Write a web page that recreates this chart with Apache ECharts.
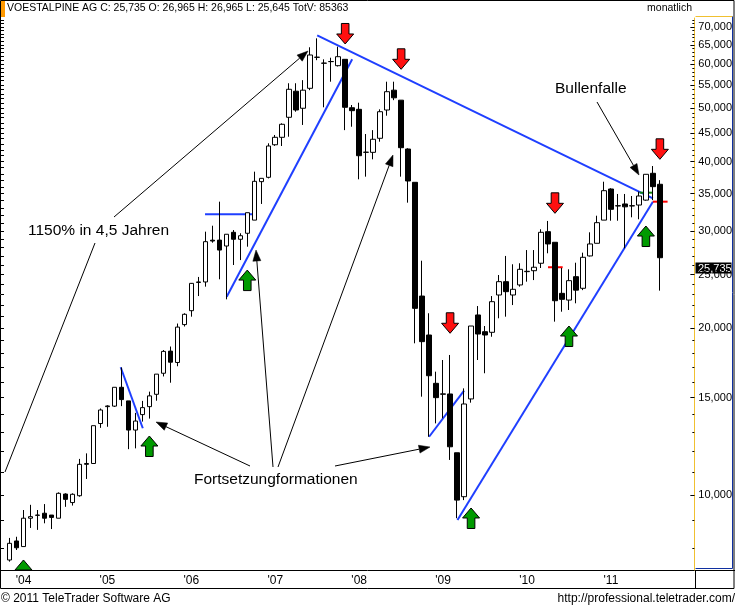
<!DOCTYPE html>
<html><head><meta charset="utf-8">
<script src="https://cdn.jsdelivr.net/npm/echarts@6/dist/echarts.min.js"></script>
<style>html,body{margin:0;padding:0;background:#fff}#c{width:735px;height:608px}</style>
</head><body><div id="c"></div>
<script>
const categories = [
'2003-11','2003-12',
'2004-01','2004-02','2004-03','2004-04','2004-05','2004-06','2004-07','2004-08','2004-09','2004-10','2004-11','2004-12',
'2005-01','2005-02','2005-03','2005-04','2005-05','2005-06','2005-07','2005-08','2005-09','2005-10','2005-11','2005-12',
'2006-01','2006-02','2006-03','2006-04','2006-05','2006-06','2006-07','2006-08','2006-09','2006-10','2006-11','2006-12',
'2007-01','2007-02','2007-03','2007-04','2007-05','2007-06','2007-07','2007-08','2007-09','2007-10','2007-11','2007-12',
'2008-01','2008-02','2008-03','2008-04','2008-05','2008-06','2008-07','2008-08','2008-09','2008-10','2008-11','2008-12',
'2009-01','2009-02','2009-03','2009-04','2009-05','2009-06','2009-07','2009-08','2009-09','2009-10','2009-11','2009-12',
'2010-01','2010-02','2010-03','2010-04','2010-05','2010-06','2010-07','2010-08','2010-09','2010-10','2010-11','2010-12',
'2011-01','2011-02','2011-03','2011-04','2011-05','2011-06','2011-07','2011-08','2011-09','2011-10','2011-11','2011-12'
];
const openV = [7632,8260,8070,9080,9200,9270,9200,9080,10040,9690,9970,11360,11400,13460,14440,14470,15650,14790,13100,13970,14440,15200,16590,18190,17350,20310,21520,24200,24250,28850,28860,28160,29810,28960,29690,31360,36800,37470,42900,44250,48090,53600,49930,54250,61700,60200,60610,59600,61200,50040,49710,41570,41570,44070,49570,53830,51640,42150,36700,22870,19450,15910,15200,15220,11920,9930,14910,21140,19720,19670,22970,24280,22970,23950,25310,25410,26210,29890,28600,23130,22490,24790,23620,27020,28480,31360,35690,33260,33540,33260,33390,34080,38100,36400];
const highV = [8365,8406,9395,9600,9395,9630,9200,10110,10070,10070,11620,11890,13340,14330,14520,15650,16990,14790,14070,14790,15370,16530,18270,18540,20400,21290,24140,24760,29890,30640,33860,29570,30090,29690,32340,38360,37310,43160,44680,46900,55400,55400,56120,64340,66780,61200,61610,64500,61200,50610,51100,44860,45590,49710,55760,55760,51640,42280,36700,26490,21290,16700,17530,17900,11920,15580,20190,21940,20190,22870,24960,27020,26100,26210,27690,27690,30190,31250,28600,25700,25560,26270,27390,29810,31940,36790,35800,34960,34960,34670,35310,37940,39270,37030];
const lowV = [7580,7956,8070,8720,8650,8890,8680,9080,9520,9570,9930,10690,11400,13220,13280,14420,14470,12100,12140,13570,13740,14800,16370,15950,17080,20150,20990,22870,23780,28550,24520,22560,26020,26560,28080,31360,33540,37300,42700,42680,44360,49220,46580,53830,60980,50130,55760,59400,45590,46240,37160,37570,40380,43450,48410,51640,37570,33720,18790,15050,12740,13470,13760,11570,9080,9790,14680,17530,16590,19310,20850,20990,22030,23780,24280,24440,25700,27320,20560,21430,21580,22190,23440,26960,28480,31360,31280,31280,27890,31730,31470,34000,34080,23390];
const closeV = [8180,8030,9080,9140,9190,9080,9110,10070,9820,10030,11360,11400,13340,14240,14480,15650,14870,13100,13600,14380,15100,16530,18170,17370,20100,21200,24110,24250,28670,28750,27690,29570,28960,29390,32340,36850,37310,42680,44250,46710,54030,49570,53830,62310,61750,60250,60650,61870,50130,49430,40990,41600,43890,49220,53490,52150,42380,36900,21730,18920,16420,14990,15230,12220,9790,14600,20190,19530,19450,22340,24280,23290,23520,25560,25350,25780,29810,28400,22430,22560,24380,23440,26870,28400,31030,35440,32800,33300,33140,33300,34670,37940,36040,26820];
const yTickLabels = [10000,15000,20000,25000,30000,35000,40000,45000,50000,55000,60000,65000,70000];
const lastPrice = 25735;
const headerText = 'VOESTALPINE AG C: 25,735 O: 26,965 H: 26,965 L: 25,645 TotV: 85363';

// annotations in data space: [categoryIndex, price]
const trendLines = [
  [[44, 67620], [92, 34340]],
  [[31.06, 22810], [49, 61200]],
  [[27.96, 32130], [35.1, 32130]],
  [[15.9, 17010], [19.06, 13200]],
  [[60, 12740], [65, 15430]],
  [[64.06, 9013], [92, 33860]]
];
const dashes = [
  {a:[90.1, 35150], b:[92, 35150], color:'#118811'},
  {a:[92, 33860], b:[94.1, 33860], color:'#ff0000'},
  {a:[77, 25780], b:[79.1, 25780], color:'#ff0000'}
];
const downArrows = [[48, 65230],[56, 58710],[78, 32260],[63, 19590],[93, 40380]];
const upArrows = [[2, 7632],[20, 12780],[34, 25477],[80, 20190],[66, 9474],[91, 30600]];

const FONT = '"Liberation Sans", Arial, sans-serif';
const L = v => Math.log10(v);
const YMIN = L(7321), YMAX = L(72670);
const minorTicks = [];
for (let v = 8000; v <= 72000; v += 1000) minorTicks.push(L(v));
const majorTicks = yTickLabels.map(L);

const candleData = openV.map((o, i) => [L(o), L(closeV[i]), L(lowV[i]), L(highV[i])]);

const chart = echarts.init(document.getElementById('c'), null, {renderer:'canvas'});
const baseY = {type:'value', min:YMIN, max:YMAX, scale:true, splitLine:{show:false}};
chart.setOption({
  animation:false,
  backgroundColor:'#fff',
  grid:{left:6, right:43, top:18, bottom:38},
  xAxis:{type:'category', data:categories, boundaryGap:true,
    axisLine:{show:false}, axisTick:{show:false}, splitLine:{show:false},
    axisLabel:{interval:(i, v) => v.endsWith('-01'), formatter:v => "'" + v.slice(2,4),
      fontSize:12, fontFamily:FONT, color:'#000', margin:5}},
  yAxis:[
    Object.assign({}, baseY, {position:'right', offset:3,
      axisLine:{show:true, lineStyle:{color:'#f0c030', width:1}},
      axisTick:{show:true, inside:true, length:4, customValues:majorTicks, lineStyle:{color:'#000'}},
      axisLabel:{show:true, customValues:majorTicks, margin:4, fontSize:11, fontFamily:FONT, color:'#000',
        formatter:v => Math.round(Math.pow(10, v)).toLocaleString('en-US')}}),
    Object.assign({}, baseY, {position:'right', offset:3,
      axisLine:{show:false},
      axisTick:{show:true, inside:true, length:2, customValues:minorTicks, lineStyle:{color:'#000'}},
      axisLabel:{show:false}}),
    Object.assign({}, baseY, {position:'left', offset:2,
      axisLine:{show:false},
      axisTick:{show:true, inside:false, length:3, customValues:minorTicks, lineStyle:{color:'#000'}},
      axisLabel:{show:false}})
  ],
  series:[{type:'candlestick', data:candleData, barWidth:5,
    itemStyle:{color:'#fff', color0:'#000', borderColor:'#000', borderColor0:'#000', borderWidth:1}}]
});

function px(i, v) {
  const f = Math.floor(i);
  const a = chart.convertToPixel({gridIndex:0}, [f, L(v)]);
  const b = chart.convertToPixel({gridIndex:0}, [f + 1, L(v)]);
  return [a[0] + (b[0] - a[0]) * (i - f), a[1]];
}
const plotBottom = 570.5;
const g = [];
// frame
g.push({type:'rect', shape:{x:0.5, y:0.5, width:733.5, height:588}, style:{fill:'none', stroke:'#000', lineWidth:1}});
g.push({type:'rect', shape:{x:1, y:1, width:4, height:16}, style:{fill:'#ff9900'}});
g.push({type:'line', shape:{x1:0, y1:570.5, x2:735, y2:570.5}, style:{stroke:'#000', lineWidth:1}});
g.push({type:'line', shape:{x1:695.5, y1:570.5, x2:695.5, y2:588.5}, style:{stroke:'#000', lineWidth:1}});
g.push({type:'line', shape:{x1:695.5, y1:16.5, x2:732.5, y2:16.5}, style:{stroke:'#f0c030', lineWidth:1}});
g.push({type:'line', shape:{x1:732.5, y1:16.5, x2:732.5, y2:568.5}, style:{stroke:'#1030a0', lineWidth:1}});
g.push({type:'line', shape:{x1:695.5, y1:568.5, x2:732.5, y2:568.5}, style:{stroke:'#1030a0', lineWidth:1}});

// trend lines
trendLines.forEach(t => {
  const p1 = px(t[0][0], t[0][1]), p2 = px(t[1][0], t[1][1]);
  g.push({type:'line', shape:{x1:p1[0], y1:p1[1], x2:p2[0], y2:p2[1]}, style:{stroke:'#1f3fff', lineWidth:2}});
});
dashes.forEach(d => {
  const p1 = px(d.a[0], d.a[1]), p2 = px(d.b[0], d.b[1]);
  g.push({type:'line', shape:{x1:p1[0], y1:p1[1], x2:p2[0], y2:p2[1]}, style:{stroke:d.color, lineWidth:2}});
});
// block arrows: dir = +1 -> body below tip (up arrow), -1 -> body above tip (down arrow)
function blockArrow(tip, dir, fill) {
  const [x, y] = tip; const hw = 8.5, sw = 3.8, hh = 10, sh = 10.5;
  let pts;
  if (dir > 0 && y + hh + sh > plotBottom) {
    pts = [[x, y], [x + hw, y + hh], [x - hw, y + hh]];
  } else {
    pts = [[x, y], [x + hw, y + dir * hh], [x + sw, y + dir * hh], [x + sw, y + dir * (hh + sh)],
           [x - sw, y + dir * (hh + sh)], [x - sw, y + dir * hh], [x - hw, y + dir * hh]];
  }
  g.push({type:'polygon', shape:{points:pts}, style:{fill:fill, stroke:'#000', lineWidth:1}});
}
downArrows.forEach(a => blockArrow(px(a[0], a[1]), -1, '#ff1010'));
upArrows.forEach(a => blockArrow(px(a[0], a[1]), 1, '#009a00'));

// callouts (pixel layout)
const callouts = [
  {from:[114,217], to:[308,51], head:true},
  {from:[95,243], to:[5,472], head:false},
  {from:[250,466], to:[156,422], head:true},
  {from:[273,467], to:[256,250], head:true},
  {from:[278,467], to:[393,155], head:true},
  {from:[335,466], to:[430,447], head:true},
  {from:[597,102], to:[639,175], head:true}
];
callouts.forEach(c => {
  const [x1, y1] = c.from, [x2, y2] = c.to;
  const dx = x2 - x1, dy = y2 - y1, len = Math.hypot(dx, dy), ux = dx / len, uy = dy / len;
  const hl = 11, hw = 4;
  const bx = x2 - ux * hl, by = y2 - uy * hl;
  g.push({type:'line', shape:{x1, y1, x2: c.head ? bx : x2, y2: c.head ? by : y2}, style:{stroke:'#000', lineWidth:1}});
  if (c.head) {
    g.push({type:'polygon', shape:{points:[[x2, y2], [bx - uy * hw, by + ux * hw], [bx + uy * hw, by - ux * hw]]},
      style:{fill:'#000', stroke:'#000', lineWidth:0.5}});
  }
});
function txt(t, x, y, size, opts) {
  g.push({type:'text', style:Object.assign({text:t, x:x, y:y, font:size + 'px ' + FONT, fill:'#000',
    align:'left', verticalAlign:'middle'}, opts || {})});
}
txt('1150% in 4,5 Jahren', 28, 231, 15.5);
txt('Fortsetzungformationen', 194, 480, 15.5);
txt('Bullenfalle', 555, 89, 15.5);
txt(headerText, 7, 8.5, 10.5);
txt('monatlich', 692, 8.5, 10.5, {align:'right'});
txt('\u00a9 2011 TeleTrader Software AG', 1, 598.5, 12);
txt('http://professional.teletrader.com/', 735, 598.5, 12, {align:'right'});
// last price box
const lp = px(93, lastPrice);
g.push({type:'rect', shape:{x:695.5, y:Math.round(lp[1]) - 5.5, width:36, height:11}, style:{fill:'#000'}});
txt(lastPrice.toLocaleString('en-US'), 698, Math.round(lp[1]) + 0.5, 11, {fill:'#fff'});

chart.setOption({graphic:{elements:g}});
</script></body></html>
